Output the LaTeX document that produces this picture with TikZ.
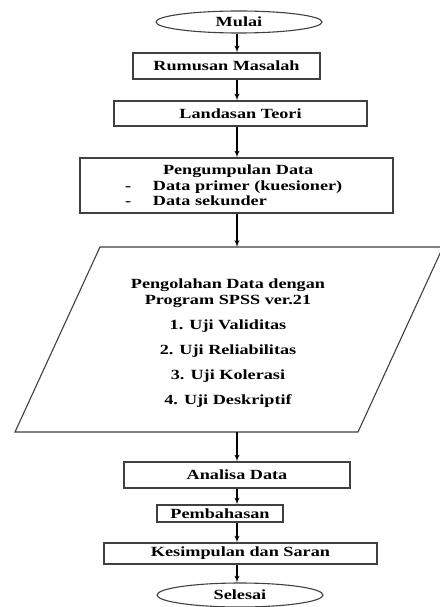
\documentclass[tikz,border=0pt]{standalone}
\usepackage{fontspec}
\setmainfont{Liberation Serif}[FakeStretch=1.3]
\usepackage{tikz}
\usetikzlibrary{shapes}
\usetikzlibrary{arrows}
\tikzset{
	term node/.style={ellipse,draw=black!75,line width=1.1pt,inner sep=0pt,font=\bfseries\fontsize{14}{15.5}\selectfont},
	process node/.style={rectangle,draw=black!75,line width=1.1pt,inner sep=0pt,font=\bfseries\fontsize{14}{15.5}\selectfont}
}

\begin{document}
\begin{tikzpicture}[->,>=latex',x=1pt,y=-1pt,line width=1.3pt]
            \useasboundingbox (0,0) rectangle (439,607);
            \coordinate (axis) at (237,0);
            \node [term node,minimum width=166pt,minimum height=22pt] (mulai) at (239,22) {Mulai};
            \node [process node,minimum width=187pt,minimum height=26pt] (rumusan) at (226.5,66) {Rumusan Masalah};
            \node [process node,minimum width=253pt,minimum height=25pt] (landasan) at (240.5,113.5) {Landasan Teori};
            \node [process node,minimum width=313pt,minimum height=55pt,text width=297pt,align=left,inner xsep=8pt] (kumpul) at (236.5,185.5)
              {\hspace*{75pt}Pengumpulan Data\\
               \hspace*{37pt}\makebox[28pt][l]{-}Data primer (kuesioner)\\
               \hspace*{37pt}\makebox[28pt][l]{-}Data sekunder};
            % parallelogram for processing step
            \coordinate (olahA) at (100,247);
            \coordinate (olahB) at (443,247);
            \coordinate (olahC) at (358,432);
            \coordinate (olahD) at (15,432);
            \draw [-,draw=black!75,line width=1.1pt] (olahA) -- (olahB) -- (olahC) -- (olahD) -- cycle;
            \node [font=\bfseries\fontsize{14}{16}\selectfont,align=center] (olah) at (228,343)
              {Pengolahan Data dengan\\ Program SPSS ver.21\\[9pt]
               1. Uji Validitas\\[9pt] 2. Uji Reliabilitas\\[9pt] 3. Uji Kolerasi\\[9pt] 4. Uji Deskriptif};
            \node [process node,minimum width=226pt,minimum height=26pt] (analisa) at (237,475) {Analisa Data};
            \node [process node,minimum width=126pt,minimum height=17pt] (bahas) at (220,513.5) {Pembahasan};
            \node [process node,minimum width=273pt,minimum height=21pt] (simpul) at (240.5,553.5) {Kesimpulan dan Saran};
            \node [term node,minimum width=166pt,minimum height=24pt] (selesai) at (240,595) {Selesai};
            % connectors
            \draw (axis |- mulai.south) -- (axis |- rumusan.north);
            \draw (axis |- rumusan.south) -- (axis |- landasan.north);
            \draw (axis |- landasan.south) -- (axis |- kumpul.north);
            \draw (axis |- kumpul.south) -- (axis |- olahA);
            \draw (axis |- olahD) -- (axis |- analisa.north);
            \draw (axis |- analisa.south) -- (axis |- bahas.north);
            \draw (axis |- bahas.south) -- (axis |- simpul.north);
            \draw (axis |- simpul.south) -- (axis |- selesai.north);
          \end{tikzpicture}
\end{document}
